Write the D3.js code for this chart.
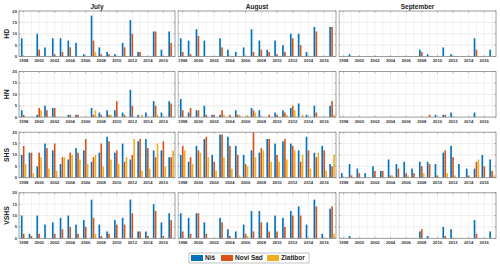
<!DOCTYPE html>
<html>
<head>
<meta charset="utf-8">
<script src="https://cdnjs.cloudflare.com/ajax/libs/d3/7.8.5/d3.min.js"></script>
<style>
    body { margin: 0; background: #fff; }
    text { font-family: "Liberation Sans", Arial, sans-serif; }
</style>
</head>
<body>
<svg id="chart" width="500" height="267"></svg>
<script>

var years = d3.range(1998, 2018);
var months = ['July', 'August', 'September'];
var indices = ['HD', 'HN', 'SHS', 'VSHS'];
var stations = ['Niš', 'Novi Sad', 'Zlatibor'];
var yTicks = [0, 5, 10, 15, 20];
var xTicks = d3.range(1998, 2017, 2);

// each panel: [Niš, Novi Sad, Zlatibor], one value per year 1998..2017
var hdJuly = [
    [8, 0, 10, 4, 8, 8, 7, 6, 1, 18, 4, 2, 1, 6, 16, 2, 0, 11, 3, 11],
    [0, 0, 3, 0, 1, 2, 4, 0, 0, 7, 1, 1, 0, 4, 10, 2, 0, 11, 0, 6],
    [0, 0, 0, 0, 0, 0, 0, 0, 0, 2, 0, 0, 0, 0, 0, 0, 0, 0, 0, 0]
];
var hdAugust = [
    [8, 7, 12, 7, 0, 8, 3, 2, 4, 12, 7, 3, 7, 5, 10, 10, 2, 13, 0, 13],
    [2, 1, 9, 0, 0, 4, 0, 0, 0, 2, 3, 2, 1, 2, 8, 5, 0, 11, 0, 13],
    [0, 0, 0, 0, 0, 0, 0, 0, 0, 0, 0, 0, 0, 0, 0, 0, 0, 0, 0, 0]
];
var hdSeptember = [
    [0, 1, 0, 0, 0, 0, 0, 0, 0, 0, 3, 1, 0, 4, 1, 0, 0, 8, 0, 3],
    [0, 0, 0, 0, 0, 0, 0, 0, 0, 0, 2, 0, 0, 0, 0, 0, 0, 3, 0, 0],
    [0, 0, 0, 0, 0, 0, 0, 0, 0, 0, 0, 0, 0, 0, 0, 0, 0, 0, 0, 0]
];

var hnJuly = [
    [3, 0, 1, 5, 4, 0, 1, 1, 0, 4, 2, 3, 3, 2, 12, 1, 2, 7, 2, 7],
    [1, 0, 4, 3, 4, 0, 1, 1, 0, 1, 1, 1, 7, 1, 5, 0, 0, 5, 0, 6],
    [0, 0, 3, 0, 0, 0, 0, 0, 0, 3, 0, 1, 0, 0, 0, 1, 0, 1, 0, 0]
];
var hnAugust = [
    [8, 2, 3, 5, 1, 1, 0, 3, 0, 4, 3, 0, 2, 3, 4, 6, 1, 5, 0, 5],
    [3, 4, 3, 1, 1, 3, 1, 1, 0, 3, 0, 1, 1, 2, 5, 0, 0, 2, 0, 7],
    [0, 0, 0, 0, 0, 1, 0, 1, 1, 2, 0, 0, 0, 1, 3, 1, 0, 0, 0, 1]
];
var hnSeptember = [
    [0, 0, 0, 0, 0, 0, 0, 0, 0, 0, 0, 0, 1, 1, 2, 0, 0, 2, 0, 0],
    [0, 0, 0, 0, 0, 0, 0, 0, 0, 0, 0, 1, 0, 1, 0, 0, 0, 0, 0, 0],
    [0, 0, 0, 0, 0, 0, 0, 0, 0, 0, 0, 0, 0, 0, 0, 0, 0, 0, 0, 0]
];

var shsJuly = [
    [10, 11, 5, 15, 12, 6, 8, 13, 12, 7, 11, 18, 11, 15, 8, 16, 17, 12, 12, 9],
    [14, 11, 11, 13, 15, 9, 11, 11, 17, 9, 15, 16, 12, 7, 10, 17, 13, 9, 16, 9],
    [6, 2, 9, 4, 3, 9, 10, 8, 6, 10, 5, 8, 6, 9, 17, 3, 4, 15, 5, 12]
];
var shsAugust = [
    [10, 7, 14, 17, 10, 19, 18, 14, 10, 12, 11, 17, 15, 16, 15, 12, 18, 11, 14, 6],
    [14, 9, 12, 18, 7, 19, 14, 10, 6, 20, 13, 17, 10, 17, 14, 7, 12, 9, 12, 5],
    [12, 6, 11, 9, 3, 9, 4, 1, 5, 9, 12, 7, 7, 8, 12, 10, 4, 11, 3, 10]
];
var shsSeptember = [
    [2, 6, 4, 2, 5, 3, 8, 6, 7, 4, 7, 7, 6, 11, 14, 6, 4, 4, 10, 8],
    [0, 1, 2, 0, 3, 3, 1, 4, 2, 2, 5, 6, 1, 12, 9, 0, 1, 7, 5, 3],
    [0, 0, 0, 0, 0, 0, 1, 0, 1, 0, 2, 0, 0, 2, 1, 0, 0, 8, 0, 1]
];

var vshsJuly = [
    [10, 2, 10, 6, 7, 9, 10, 6, 8, 17, 6, 3, 8, 9, 17, 3, 3, 15, 7, 11],
    [2, 1, 2, 0, 2, 4, 5, 2, 5, 9, 1, 2, 6, 6, 11, 3, 1, 12, 1, 8],
    [0, 0, 0, 0, 0, 0, 0, 0, 0, 2, 0, 0, 0, 0, 0, 0, 0, 0, 0, 0]
];
var vshsAugust = [
    [11, 9, 11, 7, 0, 9, 4, 3, 6, 12, 12, 7, 10, 9, 12, 14, 6, 17, 2, 13],
    [3, 2, 11, 2, 0, 7, 1, 0, 2, 3, 7, 3, 3, 5, 10, 10, 0, 14, 0, 14],
    [0, 0, 0, 0, 0, 0, 0, 0, 1, 0, 0, 0, 0, 0, 0, 0, 0, 0, 0, 2]
];
var vshsSeptember = [
    [0, 1, 0, 0, 0, 0, 0, 0, 0, 0, 3, 1, 0, 5, 4, 0, 0, 8, 0, 3],
    [0, 0, 0, 0, 0, 0, 0, 0, 0, 0, 4, 0, 0, 1, 0, 0, 0, 2, 0, 0],
    [0, 0, 0, 0, 0, 0, 0, 0, 0, 0, 0, 0, 0, 0, 0, 0, 0, 0, 0, 0]
];

var panels = [
    [hdJuly, hdAugust, hdSeptember],
    [hnJuly, hnAugust, hnSeptember],
    [shsJuly, shsAugust, shsSeptember],
    [vshsJuly, vshsAugust, vshsSeptember]
];

var config = {
    colors: ['#0072BD', '#D95319', '#EDB120'],
    cols: [
        {x0: 19, x1: 175, clip0: 0, clip1: 178},
        {x0: 178, x1: 336, clip0: 177.5, clip1: 339},
        {x0: 339, x1: 496, clip0: 338.5, clip1: 500}
    ],
    rowTop: 11,
    rowPitch: 60.6,
    rowHeight: 45.5,
    xDomain: [1997.4, 2017.5],
    barOffset: 0.25,
    barWidth: 0.21
};

var svg = d3.select('#chart');
var defs = svg.append('defs');

config.cols.forEach(function(col, ci) {

    defs.append('clipPath')
        .attr('id', 'clip' + ci)
        .append('rect')
        .attr('x', col.clip0)
        .attr('y', 0)
        .attr('width', col.clip1 - col.clip0)
        .attr('height', 248);

    var colG = svg.append('g')
        .attr('clip-path', 'url(#clip' + ci + ')');

    // white background, acts like the cropped sub-figure
    colG.append('rect')
        .attr('x', col.clip0)
        .attr('y', 0)
        .attr('width', col.clip1 - col.clip0)
        .attr('height', 248)
        .attr('fill', '#fff');

    var x = d3.scaleLinear()
        .domain(config.xDomain)
        .range([col.x0, col.x1]);

    colG.append('text')
        .attr('x', (col.x0 + col.x1) / 2)
        .attr('y', 8.5)
        .attr('text-anchor', 'middle')
        .attr('font-size', 6.5)
        .attr('font-weight', 'bold')
        .attr('fill', '#222')
        .text(months[ci]);

    indices.forEach(function(ind, ri) {

        var top = config.rowTop + ri * config.rowPitch,
            bottom = top + config.rowHeight;

        var y = d3.scaleLinear()
            .domain([0, 20])
            .range([bottom, top]);

        var g = colG.append('g').attr('class', 'panel');

        // grid
        g.selectAll('.vgrid')
            .data(years)
            .enter()
            .append('line')
            .attr('x1', function(d) {return x(d);})
            .attr('x2', function(d) {return x(d);})
            .attr('y1', top)
            .attr('y2', bottom)
            .attr('stroke', '#ebebeb')
            .attr('stroke-width', 0.6);

        g.selectAll('.hgrid')
            .data([5, 10, 15])
            .enter()
            .append('line')
            .attr('x1', col.x0)
            .attr('x2', col.x1)
            .attr('y1', function(d) {return y(d);})
            .attr('y2', function(d) {return y(d);})
            .attr('stroke', '#e3e3e3')
            .attr('stroke-width', 0.6);

        // bars
        var series = panels[ri][ci];
        var bw = x(config.xDomain[0] + config.barWidth) - x(config.xDomain[0]);

        series.forEach(function(vals, si) {
            g.append('g')
                .selectAll('rect')
                .data(vals)
                .enter()
                .append('rect')
                .attr('x', function(v, j) {
                    return x(years[j] + (si - 1) * config.barOffset) - bw / 2;
                })
                .attr('y', function(v) {return y(v);})
                .attr('width', bw)
                .attr('height', function(v) {return bottom - y(v);})
                .attr('fill', config.colors[si]);
        });

        // frame
        g.append('rect')
            .attr('x', col.x0)
            .attr('y', top)
            .attr('width', col.x1 - col.x0)
            .attr('height', bottom - top)
            .attr('fill', 'none')
            .attr('stroke', '#858585')
            .attr('stroke-width', 0.8);

        // tick marks
        g.selectAll('.xtick')
            .data(xTicks)
            .enter()
            .append('path')
            .attr('d', function(t) {
                return 'M' + x(t) + ',' + bottom + 'v-1.5M' + x(t) + ',' + top + 'v1.5';
            })
            .attr('stroke', '#777')
            .attr('stroke-width', 0.5);

        g.selectAll('.ytick')
            .data(yTicks)
            .enter()
            .append('path')
            .attr('d', function(t) {
                return 'M' + col.x0 + ',' + y(t) + 'h1.5M' + col.x1 + ',' + y(t) + 'h-1.5';
            })
            .attr('stroke', '#777')
            .attr('stroke-width', 0.5);

        // tick labels
        g.selectAll('.xlabel')
            .data(xTicks)
            .enter()
            .append('text')
            .attr('x', function(t) {return x(t);})
            .attr('y', bottom + 5.8)
            .attr('text-anchor', 'middle')
            .attr('font-size', 4.2)
            .attr('font-weight', 'bold')
            .attr('fill', '#333')
            .text(function(t) {return t;});

        if (ci == 0) {
            g.selectAll('.ylabel')
                .data(yTicks)
                .enter()
                .append('text')
                .attr('x', col.x0 - 2)
                .attr('y', function(t) {return y(t) + 1.5;})
                .attr('text-anchor', 'end')
                .attr('font-size', 4.2)
                .attr('font-weight', 'bold')
                .attr('fill', '#333')
                .text(function(t) {return t;});

            g.append('text')
                .attr('transform', 'translate(9,' + ((top + bottom) / 2) + ') rotate(-90)')
                .attr('text-anchor', 'middle')
                .attr('font-size', 6.8)
                .attr('font-weight', 'bold')
                .attr('fill', '#222')
                .text(ind);
        }
    });
});

// legend
var legend = svg.append('g').attr('class', 'legend');

legend.append('rect')
    .attr('x', 189)
    .attr('y', 253)
    .attr('width', 120)
    .attr('height', 10)
    .attr('fill', '#fff')
    .attr('stroke', '#999')
    .attr('stroke-width', 0.6);

var legendX = [191, 221, 267];

legend.selectAll('.item')
    .data(stations)
    .enter()
    .append('g')
    .attr('transform', function(s, i) {return 'translate(' + legendX[i] + ',255)';})
    .each(function(s, i) {
        var item = d3.select(this);
        item.append('rect')
            .attr('width', 12)
            .attr('height', 6)
            .attr('fill', config.colors[i]);
        item.append('text')
            .attr('x', 14)
            .attr('y', 5.4)
            .attr('font-size', 6.5)
            .attr('font-weight', 'bold')
            .attr('fill', '#222')
            .text(s);
    });

</script>
</body>
</html>
